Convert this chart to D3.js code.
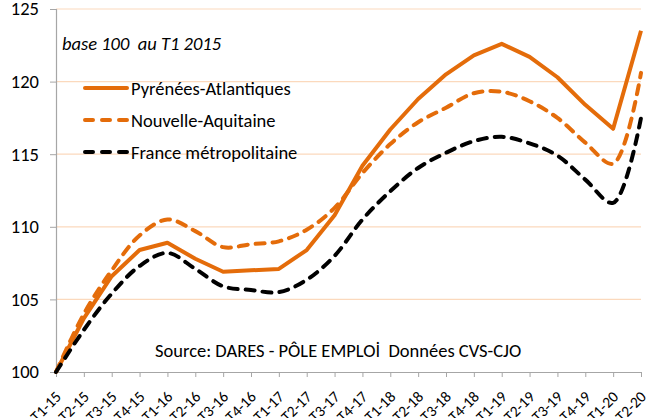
<!DOCTYPE html>
<html lang="fr">
<head>
  <meta charset="UTF-8">
  <title>Demandeurs d'emploi - base 100</title>
  <script src="https://d3js.org/d3.v7.min.js"></script>
  <style>
    body { margin: 0; background: #fff; }
    text { font-family: Calibri, Carlito, "Open Sans", sans-serif; white-space: pre; }
  </style>
</head>
<body>
  <div id="chart"></div>

  <script>
    // Quarters T1-15 ... T2-20
    const quarters = ["T1-15", "T2-15", "T3-15", "T4-15", "T1-16", "T2-16", "T3-16", "T4-16",
      "T1-17", "T2-17", "T3-17", "T4-17", "T1-18", "T2-18", "T3-18", "T4-18",
      "T1-19", "T2-19", "T3-19", "T4-19", "T1-20", "T2-20"];

    // Values (base 100 at T1 2015)
    const pyrenees = [100, 103.7, 106.6, 108.4, 108.9, 107.8, 106.9, 107.0, 107.1, 108.4, 110.8,
      114.2, 116.7, 118.8, 120.5, 121.8, 122.6, 121.7, 120.3, 118.4, 116.75, 123.5];
    const nouvelle = [100, 104.0, 107.0, 109.4, 110.5, 109.7, 108.6, 108.8, 109.0, 109.8, 111.3,
      113.7, 115.7, 117.2, 118.2, 119.2, 119.3, 118.65, 117.5, 115.8, 114.35, 120.6];
    const france = [100, 102.9, 105.4, 107.3, 108.2, 107.1, 105.9, 105.65, 105.5, 106.35, 108.0,
      110.5, 112.45, 114.05, 115.1, 115.9, 116.2, 115.75, 114.9, 113.25, 111.65, 117.5];

    const yTicks = [100, 105, 110, 115, 120, 125];

    const series = [
      { name: "Pyrénées-Atlantiques", values: pyrenees, color: "#E46C0A", dash: null, smooth: false },
      { name: "Nouvelle-Aquitaine", values: nouvelle, color: "#E46C0A", dash: "9,8", smooth: true },
      { name: "France métropolitaine", values: france, color: "#000000", dash: "9,8", smooth: true }
    ];

    const width = 646, height = 418;
    const margin = { top: 9, right: 5, bottom: 46, left: 56 };

    const svg = d3.select("#chart").append("svg")
      .attr("width", width)
      .attr("height", height);

    const x = d3.scalePoint()
      .domain(quarters)
      .range([margin.left, width - margin.right]);

    const y = d3.scaleLinear()
      .domain([100, 125])
      .range([height - margin.bottom, margin.top]);

    // Gridlines
    svg.append("g")
      .selectAll("line")
      .data(yTicks.filter(d => d > 100))
      .enter().append("line")
        .attr("x1", margin.left)
        .attr("x2", width - margin.right)
        .attr("y1", d => y(d))
        .attr("y2", d => y(d))
        .attr("stroke", "#FBD9BD")
        .attr("stroke-width", 1.2);

    // Y axis
    const yAxis = svg.append("g")
      .attr("transform", `translate(${margin.left},0)`)
      .call(d3.axisLeft(y).tickValues(yTicks).tickSize(6).tickPadding(11));
    yAxis.select(".domain").attr("stroke", "#A6A6A6").attr("stroke-width", 1.2);
    yAxis.selectAll(".tick line").attr("stroke", "#A6A6A6");
    yAxis.selectAll("text")
      .style("font-size", "18.5px")
      .attr("fill", "#000");

    // X axis
    const xAxis = svg.append("g")
      .attr("transform", `translate(0,${y(100)})`)
      .call(d3.axisBottom(x).tickSize(5).tickSizeOuter(0));
    xAxis.select(".domain").attr("stroke", "#A6A6A6").attr("stroke-width", 1.2);
    xAxis.selectAll(".tick line").attr("stroke", "#A6A6A6");
    xAxis.selectAll("text")
      .style("font-size", "15.5px")
      .attr("fill", "#000")
      .attr("text-anchor", "end")
      .attr("dx", "0")
      .attr("dy", "0")
      .attr("transform", "translate(0,20) rotate(-45)");

    // Lines
    series.forEach(s => {
      const line = d3.line()
        .x((d, i) => x(quarters[i]))
        .y(d => y(d))
        .curve(s.smooth ? d3.curveCatmullRom.alpha(0.5) : d3.curveLinear);

      svg.append("path")
        .datum(s.values)
        .attr("fill", "none")
        .attr("stroke", s.color)
        .attr("stroke-width", 4)
        .attr("stroke-linejoin", "round")
        .attr("stroke-linecap", s.dash ? "round" : "butt")
        .attr("stroke-dasharray", s.dash)
        .attr("d", line);
    });

    // Base note
    svg.append("text")
      .attr("x", 62)
      .attr("y", 50)
      .style("font-size", "18.5px")
      .style("font-style", "italic")
      .text("base 100  au T1 2015");

    // Legend
    const legend = svg.append("g");
    series.forEach((s, i) => {
      const ly = 88 + i * 32;
      legend.append("line")
        .attr("x1", 85)
        .attr("x2", 127)
        .attr("y1", ly)
        .attr("y2", ly)
        .attr("stroke", s.color)
        .attr("stroke-width", 4)
        .attr("stroke-linecap", "round")
        .attr("stroke-dasharray", s.dash ? "8,9" : null);
      legend.append("text")
        .attr("x", 131)
        .attr("y", ly + 7)
        .style("font-size", "18.5px")
        .text(s.name);
    });

    // Source
    svg.append("text")
      .attr("x", 155)
      .attr("y", 357)
      .style("font-size", "18.5px")
      .text("Source: DARES - PÔLE EMPLOİ  Données CVS-CJO");
  </script>
</body>
</html>
